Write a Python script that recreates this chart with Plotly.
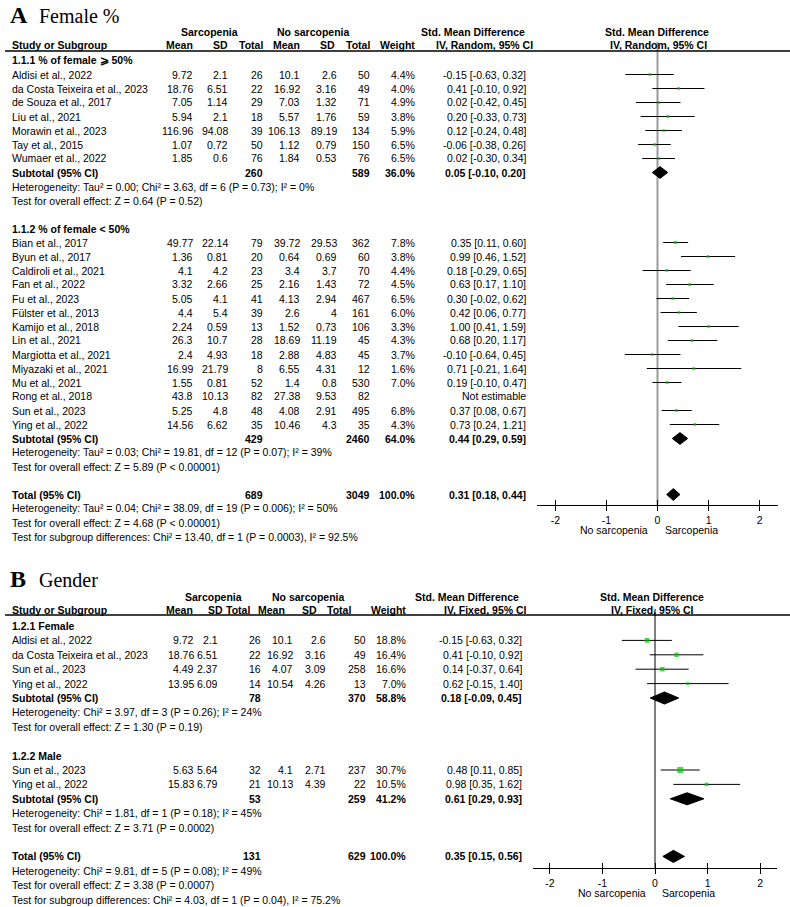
import math
import plotly.graph_objects as go

# ------------------------------------------------------------------ data (A)
a1_title = "1.1.1 % of female ⩾ 50%"
a1_study = ["Aldisi et al., 2022", "da Costa Teixeira et al., 2023", "de Souza et al., 2017",
            "Liu et al., 2021", "Morawin et al., 2023", "Tay et al., 2015", "Wumaer et al., 2022"]
a1_mean_s = [9.72, 18.76, 7.05, 5.94, 116.96, 1.07, 1.85]
a1_sd_s = [2.1, 6.51, 1.14, 2.1, 94.08, 0.72, 0.6]
a1_n_s = [26, 22, 29, 18, 39, 50, 76]
a1_mean_n = [10.1, 16.92, 7.03, 5.57, 106.13, 1.12, 1.84]
a1_sd_n = [2.6, 3.16, 1.32, 1.76, 89.19, 0.79, 0.53]
a1_n_n = [50, 49, 71, 59, 134, 150, 76]
a1_weight = [4.4, 4.0, 4.9, 3.8, 5.9, 6.5, 6.5]
a1_smd = [-0.15, 0.41, 0.02, 0.20, 0.12, -0.06, 0.02]
a1_lo = [-0.63, -0.10, -0.42, -0.33, -0.24, -0.38, -0.30]
a1_hi = [0.32, 0.92, 0.45, 0.73, 0.48, 0.26, 0.34]
a1_sub = [260, 589, 36.0, 0.05, -0.10, 0.20]
a1_het = "Heterogeneity: Tau² = 0.00; Chi² = 3.63, df = 6 (P = 0.73); I² = 0%"
a1_z = "Test for overall effect: Z = 0.64 (P = 0.52)"

a2_title = "1.1.2 % of female &lt; 50%"
a2_study = ["Bian et al., 2017", "Byun et al., 2017", "Caldiroli et al., 2021", "Fan et al., 2022",
            "Fu et al., 2023", "Fülster et al., 2013", "Kamijo et al., 2018", "Lin et al., 2021",
            "Margiotta et al., 2021", "Miyazaki et al., 2021", "Mu et al., 2021", "Rong et al., 2018",
            "Sun et al., 2023", "Ying et al., 2022"]
a2_mean_s = [49.77, 1.36, 4.1, 3.32, 5.05, 4.4, 2.24, 26.3, 2.4, 16.99, 1.55, 43.8, 5.25, 14.56]
a2_sd_s = [22.14, 0.81, 4.2, 2.66, 4.1, 5.4, 0.59, 10.7, 4.93, 21.79, 0.81, 10.13, 4.8, 6.62]
a2_n_s = [79, 20, 23, 25, 41, 39, 13, 28, 18, 8, 52, 82, 48, 35]
a2_mean_n = [39.72, 0.64, 3.4, 2.16, 4.13, 2.6, 1.52, 18.69, 2.88, 6.55, 1.4, 27.38, 4.08, 10.46]
a2_sd_n = [29.53, 0.69, 3.7, 1.43, 2.94, 4, 0.73, 11.19, 4.83, 4.31, 0.8, 9.53, 2.91, 4.3]
a2_n_n = [362, 60, 70, 72, 467, 161, 106, 45, 45, 12, 530, 82, 495, 35]
a2_weight = [7.8, 3.8, 4.4, 4.5, 6.5, 6.0, 3.3, 4.3, 3.7, 1.6, 7.0, None, 6.8, 4.3]
a2_smd = [0.35, 0.99, 0.18, 0.63, 0.30, 0.42, 1.00, 0.68, -0.10, 0.71, 0.19, None, 0.37, 0.73]
a2_lo = [0.11, 0.46, -0.29, 0.17, -0.02, 0.06, 0.41, 0.20, -0.64, -0.21, -0.10, None, 0.08, 0.24]
a2_hi = [0.60, 1.52, 0.65, 1.10, 0.62, 0.77, 1.59, 1.17, 0.45, 1.64, 0.47, None, 0.67, 1.21]
a2_sub = [429, 2460, 64.0, 0.44, 0.29, 0.59]
a2_het = "Heterogeneity: Tau² = 0.03; Chi² = 19.81, df = 12 (P = 0.07); I² = 39%"
a2_z = "Test for overall effect: Z = 5.89 (P &lt; 0.00001)"

a_total = [689, 3049, 100.0, 0.31, 0.18, 0.44]
a_total_het = "Heterogeneity: Tau² = 0.04; Chi² = 38.09, df = 19 (P = 0.006); I² = 50%"
a_total_z = "Test for overall effect: Z = 4.68 (P &lt; 0.00001)"
a_subdiff = "Test for subgroup differences: Chi² = 13.40, df = 1 (P = 0.0003), I² = 92.5%"

# ------------------------------------------------------------------ data (B)
b1_title = "1.2.1 Female"
b1_study = ["Aldisi et al., 2022", "da Costa Teixeira et al., 2023", "Sun et al., 2023", "Ying et al., 2022"]
b1_mean_s = [9.72, 18.76, 4.49, 13.95]
b1_sd_s = [2.1, 6.51, 2.37, 6.09]
b1_n_s = [26, 22, 16, 14]
b1_mean_n = [10.1, 16.92, 4.07, 10.54]
b1_sd_n = [2.6, 3.16, 3.09, 4.26]
b1_n_n = [50, 49, 258, 13]
b1_weight = [18.8, 16.4, 16.6, 7.0]
b1_smd = [-0.15, 0.41, 0.14, 0.62]
b1_lo = [-0.63, -0.10, -0.37, -0.15]
b1_hi = [0.32, 0.92, 0.64, 1.40]
b1_sub = [78, 370, 58.8, 0.18, -0.09, 0.45]
b1_het = "Heterogeneity: Chi² = 3.97, df = 3 (P = 0.26); I² = 24%"
b1_z = "Test for overall effect: Z = 1.30 (P = 0.19)"

b2_title = "1.2.2 Male"
b2_study = ["Sun et al., 2023", "Ying et al., 2022"]
b2_mean_s = [5.63, 15.83]
b2_sd_s = [5.64, 6.79]
b2_n_s = [32, 21]
b2_mean_n = [4.1, 10.13]
b2_sd_n = [2.71, 4.39]
b2_n_n = [237, 22]
b2_weight = [30.7, 10.5]
b2_smd = [0.48, 0.98]
b2_lo = [0.11, 0.35]
b2_hi = [0.85, 1.62]
b2_sub = [53, 259, 41.2, 0.61, 0.29, 0.93]
b2_het = "Heterogeneity: Chi² = 1.81, df = 1 (P = 0.18); I² = 45%"
b2_z = "Test for overall effect: Z = 3.71 (P = 0.0002)"

b_total = [131, 629, 100.0, 0.35, 0.15, 0.56]
b_total_het = "Heterogeneity: Chi² = 9.81, df = 5 (P = 0.08); I² = 49%"
b_total_z = "Test for overall effect: Z = 3.38 (P = 0.0007)"
b_subdiff = "Test for subgroup differences: Chi² = 4.03, df = 1 (P = 0.04), I² = 75.2%"

axis_ticks = [-2, -1, 0, 1, 2]
axis_ticktext = ["-2", "-1", "0", "1", "2"]

# ------------------------------------------------------------------ layout helpers
W, H = 790, 907
SANS = "Liberation Sans, Arial, sans-serif"
SERIF = "Liberation Serif, Times New Roman, serif"
FS = 10.5
GREEN = "#00c800"
DH = 0.42  # half height of diamonds in row units

fig = go.Figure()
ann = []
shapes = []


def T(x, y, s, anchor="right", bold=False, size=FS, family=SANS):
    ann.append(dict(x=x / W, y=1 - y / H, xref="paper", yref="paper",
                    text=f"<b>{s}</b>" if bold else s, showarrow=False,
                    xanchor=anchor, yanchor="middle",
                    font=dict(size=size, family=family, color="black")))


def g(v):
    return f"{v:g}"


def cis(e, l, h):
    return f"{e:.2f} [{l:.2f}, {h:.2f}]"


def panel(groups, total, cfg):
    xa, ya = cfg["xa"], cfg["ya"]
    c = cfg["cols"]
    rowpx = lambda i: cfg["y0"] + cfg["step"] * i
    ci_x, ci_y, sq_x, sq_y, sq_s = [], [], [], [], []
    diamonds = []
    r = 0
    for gd in groups:
        T(10, rowpx(r), gd["title"], "left", True)
        r += 1
        for k, name in enumerate(gd["study"]):
            y = rowpx(r)
            T(10, y, name, "left")
            T(c[0], y, g(gd["mean_s"][k]))
            T(c[1], y, g(gd["sd_s"][k]))
            T(c[2], y, g(gd["n_s"][k]))
            T(c[3], y, g(gd["mean_n"][k]))
            T(c[4], y, g(gd["sd_n"][k]))
            T(c[5], y, g(gd["n_n"][k]))
            w = gd["weight"][k]
            if w is None:
                T(c[7], y, "Not estimable")
            else:
                T(c[6], y, f"{w:.1f}%")
                T(c[7], y, cis(gd["smd"][k], gd["lo"][k], gd["hi"][k]))
                ci_x += [gd["lo"][k], gd["hi"][k], None]
                ci_y += [r, r, None]
                sq_x.append(gd["smd"][k])
                sq_y.append(r)
                sq_s.append(max(2.8, 1.1 * math.sqrt(w)))
            r += 1
        s = gd["sub"]
        y = rowpx(r)
        T(10, y, "Subtotal (95% CI)", "left", True)
        T(c[2], y, g(s[0]), bold=True)
        T(c[5], y, g(s[1]), bold=True)
        T(c[6], y, f"{s[2]:.1f}%", bold=True)
        T(c[7], y, cis(s[3], s[4], s[5]), bold=True)
        diamonds.append((r, s[3], s[4], s[5]))
        r += 1
        T(10, rowpx(r), gd["het"], "left")
        r += 1
        T(10, rowpx(r), gd["z"], "left")
        r += 2
    t = total["vals"]
    y = rowpx(r)
    T(10, y, "Total (95% CI)", "left", True)
    T(c[2], y, g(t[0]), bold=True)
    T(c[5], y, g(t[1]), bold=True)
    T(c[6], y, f"{t[2]:.1f}%", bold=True)
    T(c[7], y, cis(t[3], t[4], t[5]), bold=True)
    diamonds.append((r, t[3], t[4], t[5]))
    r += 1
    T(10, rowpx(r), total["het"], "left")
    r += 1
    T(10, rowpx(r), total["z"], "left")
    r += 1
    T(10, rowpx(r), total["sub"], "left")

    fig.add_trace(go.Scatter(x=ci_x, y=ci_y, mode="lines", xaxis=xa, yaxis=ya,
                             line=dict(color="black", width=1), hoverinfo="skip"))
    fig.add_trace(go.Scatter(x=sq_x, y=sq_y, mode="markers", xaxis=xa, yaxis=ya,
                             marker=dict(symbol="square", color=GREEN, size=sq_s, line=dict(width=0))))
    for (rr, e, l, h) in diamonds:
        fig.add_trace(go.Scatter(x=[l, e, h, e, l], y=[rr, rr - DH, rr, rr + DH, rr],
                                 mode="lines", fill="toself", fillcolor="black",
                                 line=dict(color="black", width=1), xaxis=xa, yaxis=ya,
                                 hoverinfo="skip"))


def grp(title, study, ms, ss, ns, mn, sn, nn, wt, smd, lo, hi, sub, het, z):
    return dict(title=title, study=study, mean_s=ms, sd_s=ss, n_s=ns, mean_n=mn, sd_n=sn,
                n_n=nn, weight=wt, smd=smd, lo=lo, hi=hi, sub=sub, het=het, z=z)


# ------------------------------------------------------------------ Panel A
A = dict(y0=60.5, step=14.0, top=42, line=51, axis=505, x0=537, x1=778, rng=2.36,
         cols=[195, 230, 265, 302, 339, 372, 417, 528], xa="x", ya="y")
T(8, 15, "<b>A</b>", "left", size=24, family=SERIF)
T(37, 16, "Female %", "left", size=20, family=SERIF)
T(210, 32, "Sarcopenia", "center", True)
T(313, 32, "No sarcopenia", "center", True)
T(473, 32, "Std. Mean Difference", "center", True)
T(657, 32, "Std. Mean Difference", "center", True)
hdrA = [(10, "Study or Subgroup", "left"), (195, "Mean", "right"), (230, "SD", "right"),
        (265, "Total", "right"), (302, "Mean", "right"), (337, "SD", "right"),
        (372, "Total", "right"), (417, "Weight", "right"),
        (484, "IV, Random, 95% CI", "center"), (658, "IV, Random, 95% CI", "center")]
for x, s, an in hdrA:
    T(x, 45.5, s, an, True)

panel([grp(a1_title, a1_study, a1_mean_s, a1_sd_s, a1_n_s, a1_mean_n, a1_sd_n, a1_n_n,
           a1_weight, a1_smd, a1_lo, a1_hi, a1_sub, a1_het, a1_z),
       grp(a2_title, a2_study, a2_mean_s, a2_sd_s, a2_n_s, a2_mean_n, a2_sd_n, a2_n_n,
           a2_weight, a2_smd, a2_lo, a2_hi, a2_sub, a2_het, a2_z)],
      dict(vals=a_total, het=a_total_het, z=a_total_z, sub=a_subdiff), A)

# ------------------------------------------------------------------ Panel B
B = dict(y0=626, step=14.4, top=609, line=615, axis=868, x0=533, x1=777, rng=2.32,
         cols=[196, 220, 263, 295, 328, 368, 408, 524], xa="x2", ya="y2")
T(8, 579, "<b>B</b>", "left", size=24, family=SERIF)
T(37, 580, "Gender", "left", size=20, family=SERIF)
T(213, 597, "Sarcopenia", "center", True)
T(308, 597, "No sarcopenia", "center", True)
T(467, 597, "Std. Mean Difference", "center", True)
T(652, 597, "Std. Mean Difference", "center", True)
hdrB = [(10, "Study or Subgroup", "left"), (195, "Mean", "right"), (225, "SD", "right"),
        (252, "Total", "right"), (287, "Mean", "right"), (319, "SD", "right"),
        (353, "Total", "right"), (408, "Weight", "right"),
        (485, "IV, Fixed, 95% CI", "center"), (652, "IV, Fixed, 95% CI", "center")]
for x, s, an in hdrB:
    T(x, 610, s, an, True)

panel([grp(b1_title, b1_study, b1_mean_s, b1_sd_s, b1_n_s, b1_mean_n, b1_sd_n, b1_n_n,
           b1_weight, b1_smd, b1_lo, b1_hi, b1_sub, b1_het, b1_z),
       grp(b2_title, b2_study, b2_mean_s, b2_sd_s, b2_n_s, b2_mean_n, b2_sd_n, b2_n_n,
           b2_weight, b2_smd, b2_lo, b2_hi, b2_sub, b2_het, b2_z)],
      dict(vals=b_total, het=b_total_het, z=b_total_z, sub=b_subdiff), B)

# ------------------------------------------------------------------ axes & lines
layout_axes = {}
for P, xa_name, ya_name, ov_name, zero_col, zero_w in [
        (A, "xaxis", "yaxis", "xaxis3", "#9a9a9a", 2),
        (B, "xaxis2", "yaxis2", "xaxis4", "black", 1)]:
    xref = P["xa"]
    yref = P["ya"]
    dom_x = [P["x0"] / W, P["x1"] / W]
    dom_y = [1 - P["axis"] / H, 1 - P["top"] / H]
    common = dict(domain=dom_x, range=[-P["rng"], P["rng"]], tickvals=axis_ticks,
                  ticktext=axis_ticktext, showgrid=False, zeroline=False, fixedrange=True)
    layout_axes[xa_name] = dict(common, anchor=yref, showline=True, linecolor="black",
                                linewidth=1, ticks="outside", ticklen=5, tickwidth=1,
                                tickcolor="black",
                                tickfont=dict(size=FS, family=SANS, color="black"))
    layout_axes[ov_name] = dict(common, anchor=yref, overlaying=xref, showline=False,
                                ticks="inside", ticklen=5, tickwidth=1, tickcolor="black",
                                showticklabels=False)
    rowpx0, step = P["y0"], P["step"]
    layout_axes[ya_name] = dict(domain=dom_y, range=[(P["axis"] - rowpx0) / step,
                                                     (P["top"] - rowpx0) / step],
                                visible=False, fixedrange=True)
    # zero line
    shapes.append(dict(type="line", xref=xref, yref="paper", x0=0, x1=0,
                       y0=1 - P["axis"] / H, y1=1 - P["top"] / H,
                       line=dict(color=zero_col, width=zero_w), layer="below"))
    # header rule
    shapes.append(dict(type="line", xref="paper", yref="paper", x0=5 / W, x1=1,
                       y0=1 - P["line"] / H, y1=1 - P["line"] / H,
                       line=dict(color="black", width=1.5)))
    # favours labels
    ann.append(dict(x=-0.14, y=1 - (P["axis"] + 24.5) / H, xref=xref, yref="paper",
                    text="No sarcopenia", showarrow=False, xanchor="right", yanchor="middle",
                    font=dict(size=FS, family=SANS, color="black")))
    ann.append(dict(x=0.1, y=1 - (P["axis"] + 24.5) / H, xref=xref, yref="paper",
                    text="Sarcopenia", showarrow=False, xanchor="left", yanchor="middle",
                    font=dict(size=FS, family=SANS, color="black")))

# dummy traces so the overlay tick axes are drawn
fig.add_trace(go.Scatter(x=[0], y=[0], xaxis="x3", yaxis="y", mode="markers",
                         marker=dict(opacity=0), hoverinfo="skip"))
fig.add_trace(go.Scatter(x=[0], y=[0], xaxis="x4", yaxis="y2", mode="markers",
                         marker=dict(opacity=0), hoverinfo="skip"))

fig.update_layout(width=W, height=H, margin=dict(l=0, r=0, t=0, b=0),
                  paper_bgcolor="white", plot_bgcolor="white", showlegend=False,
                  annotations=ann, shapes=shapes, **layout_axes)

fig.write_html("out.html", config={"displayModeBar": False},
               post_script="document.body.style.margin='0px';document.body.style.overflow='hidden';")
